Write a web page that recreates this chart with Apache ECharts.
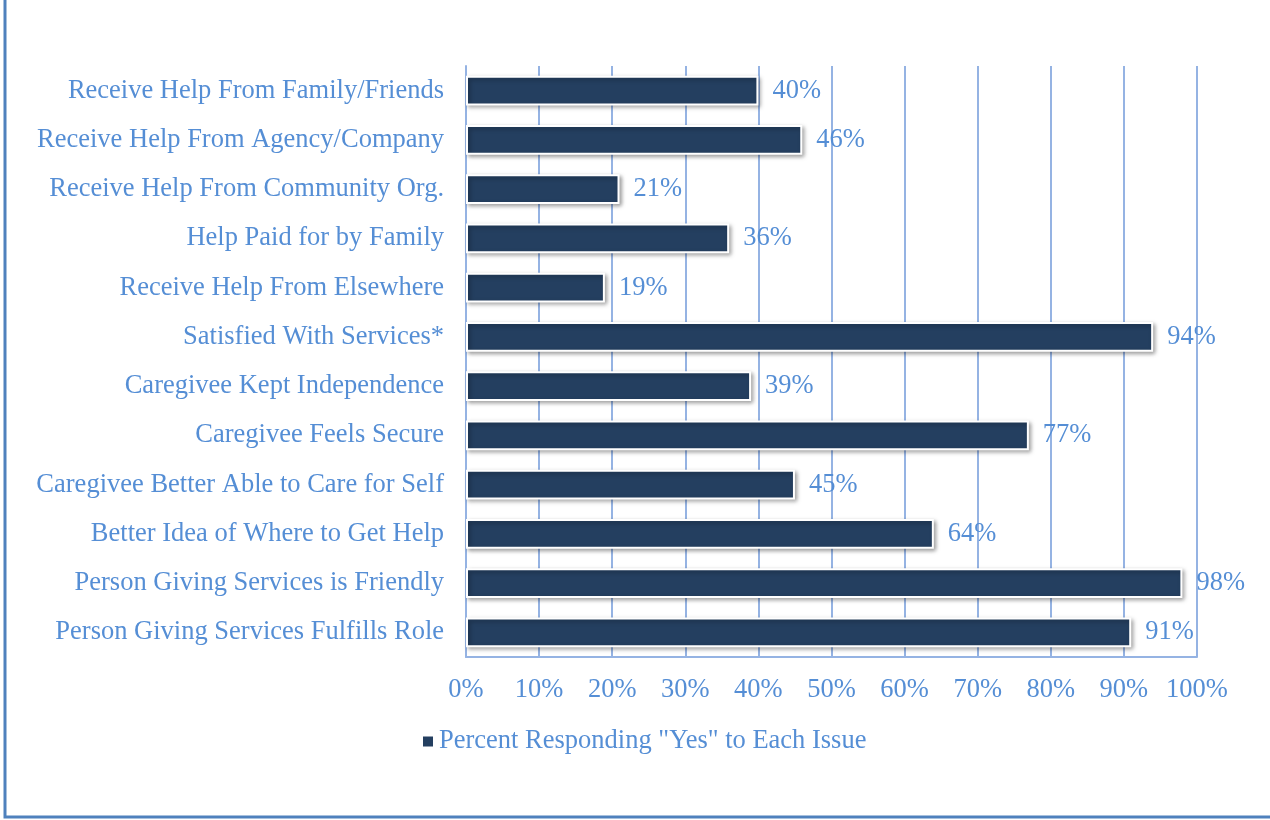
<!DOCTYPE html>
<html>
<head>
<meta charset="utf-8">
<script src="https://cdn.jsdelivr.net/npm/echarts@6/dist/echarts.min.js"></script>
<style>
  html, body { margin: 0; padding: 0; background: #fff; }
  #chart { width: 1270px; height: 820px; }
</style>
</head>
<body>
<div id="chart"></div>
<script>
const categories = [
  'Receive Help From Family/Friends',
  'Receive Help From Agency/Company',
  'Receive Help From Community Org.',
  'Help Paid for by Family',
  'Receive Help From Elsewhere',
  'Satisfied With Services*',
  'Caregivee Kept Independence',
  'Caregivee Feels Secure',
  'Caregivee Better Able to Care for Self',
  'Better Idea of Where to Get Help',
  'Person Giving Services is Friendly',
  'Person Giving Services Fulfills Role'
]
const yesPercent = [40, 46, 21, 36, 19, 94, 39, 77, 45, 64, 98, 91]
const seriesName = 'Percent Responding "Yes" to Each Issue'

const textColor = '#558ED5'
const gridColor = '#95B3E3'
const barColor = '#243F60'
const fontFamily = '"Liberation Serif", "Times New Roman", serif'
const fontSize = 26.5

const chart = echarts.init(document.getElementById('chart'))
const option = {
  textStyle: { fontFamily: fontFamily },
  grid: {
    left: 466,
    right: 73,
    top: 66,
    bottom: 163
  },
  legend: {
    bottom: 60,
    left: 416,
    icon: 'rect',
    itemWidth: 12,
    itemHeight: 12,
    itemGap: 7,
    textStyle: { color: textColor, fontSize: fontSize, fontFamily: fontFamily },
    data: [seriesName]
  },
  xAxis: {
    type: 'value',
    min: 0,
    max: 100,
    interval: 10,
    axisLine: { show: true, lineStyle: { color: gridColor, width: 2 } },
    axisTick: { show: false },
    splitLine: { show: true, lineStyle: { color: gridColor, width: 2 } },
    axisLabel: {
      formatter: '{value}%',
      color: textColor,
      fontSize: fontSize,
      margin: 20,
      fontFamily: fontFamily
    }
  },
  yAxis: {
    type: 'category',
    inverse: true,
    data: categories,
    axisLine: { show: true, lineStyle: { color: gridColor, width: 2 } },
    axisTick: { show: false },
    axisLabel: {
      color: textColor,
      fontSize: fontSize,
      margin: 22,
      fontFamily: fontFamily
    }
  },
  series: [
    {
      name: seriesName,
      type: 'bar',
      data: yesPercent,
      barWidth: '60%',
      itemStyle: {
        color: barColor,
        borderColor: '#ffffff',
        borderWidth: 2,
        shadowColor: 'rgba(0,0,0,0.35)',
        shadowBlur: 4,
        shadowOffsetX: 2,
        shadowOffsetY: 2
      },
      label: {
        show: true,
        position: 'right',
        distance: 14,
        formatter: '{c}%',
        color: textColor,
        fontSize: fontSize,
        fontFamily: fontFamily
      }
    }
  ],
  graphic: [
    {
      type: 'polyline',
      shape: { points: [[5, 0], [5, 817], [1270, 817]] },
      style: { stroke: '#4F81BD', lineWidth: 3, fill: null }
    }
  ]
}
chart.setOption(option)
</script>
</body>
</html>
